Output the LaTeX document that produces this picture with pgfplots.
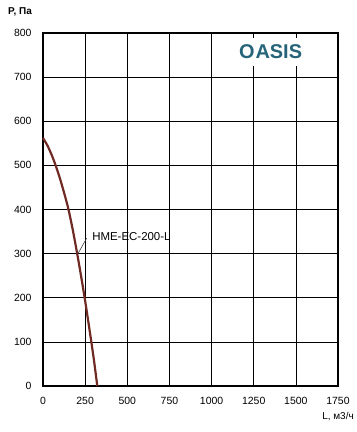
\documentclass[border=0pt]{standalone}
\usepackage{fontspec}
\setmainfont{Liberation Sans}
\usepackage{pgfplots}
\pgfplotsset{compat=1.18}
\definecolor{curve}{RGB}{112,42,36}
\definecolor{oasis}{RGB}{38,100,122}
\begin{document}
\begin{tikzpicture}
\begin{axis}[
  scale only axis, width=295bp, height=353bp,
  xmin=0, xmax=1750, ymin=0, ymax=800,
  xtick={0,250,...,1750}, ytick={0,100,...,800},
  grid=major, major grid style={black, line width=0.6pt},
  axis line style={black, line width=1.6pt},
  major tick length=0pt,
  /pgf/number format/assume math mode=true,
  /pgf/number format/1000 sep={},
  tick label style={font=\fontsize{10.5}{12}\selectfont},
  xticklabel style={anchor=center, yshift=-15bp},
  yticklabel style={anchor=east, xshift=-8bp},
  clip=false,
]
\node[fill=white, inner xsep=3pt, inner ysep=7bp, text=oasis, font=\bfseries\fontsize{20}{24}\selectfont] at (axis cs:1350,757) {O\kern1pt ASIS};
\addplot[curve, line width=2.2pt, smooth] coordinates {
 (0,562) (25,546) (50,525) (75,500) (100,471) (125,438) (150,402) (175,357) (200,306) (225,251) (250,193) (275,130) (300,65) (322,0)
};
\draw[black!75, line width=0.6pt] (axis cs:259,335) -- (axis cs:209,301);
\node[anchor=west, inner sep=0pt, font=\fontsize{11.5}{13}\selectfont] at (axis cs:291,338) {HME-EC-200-L};
\end{axis}
\node[font=\bfseries\fontsize{10}{12}\selectfont] at ([shift={(-23bp,21.5bp)}]current axis.north west) {P, Па};
\node[font=\fontsize{10}{12}\selectfont] at ([shift={(0bp,-31bp)}]current axis.south east) {L, м3/ч};
\pgfresetboundingbox
\path ([shift={(-43bp,-46bp)}]current axis.south west) rectangle ([shift={(19bp,33bp)}]current axis.north east);
\end{tikzpicture}
\end{document}
